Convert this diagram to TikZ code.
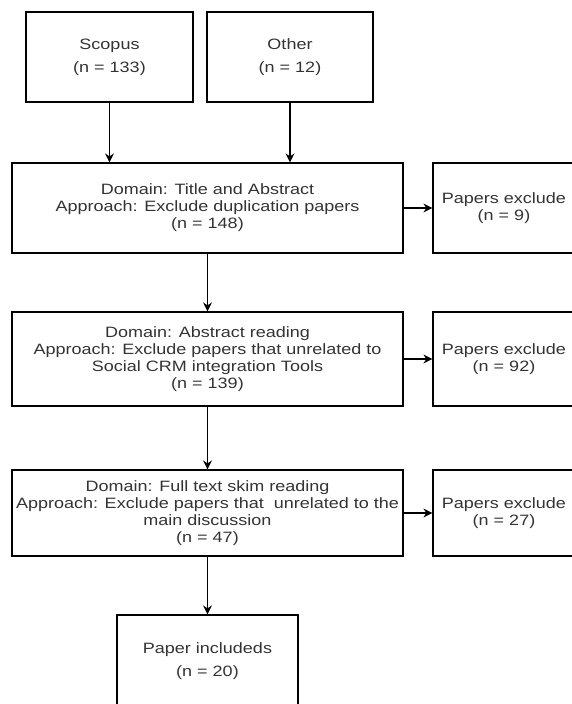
\documentclass[tikz,border=0pt]{standalone}
\usepackage{fontspec}
\setmainfont{Liberation Sans}[FakeStretch=1.2]
\usepackage{tikz}
\usetikzlibrary{arrows.meta,positioning}
\definecolor{txtgray}{HTML}{333333}
\tikzset{
    %Define standard arrow tip
    >={Stealth[length=9pt,width=9pt]},
    %Define style for boxes
    sbox/.style={
           rectangle,
           draw=black, line width=1.2pt,
           inner sep=0pt,
           text=txtgray,
           font=\fontsize{15}{17}\selectfont,
           align=center},
    % Define arrow style
    arr/.style={
           ->,
           line width=1.2pt}
}
\begin{document}
\begin{tikzpicture}[x=1pt,y=-1pt]
    \useasboundingbox (0,0) rectangle (572,704);
    \clip (0,0) rectangle (572,704);

    % SOURCES
    \node[sbox, minimum width=167pt, minimum height=90pt] at (109.5,57) (scopus) {Scopus\\[6pt](n = 133)};
    \node[sbox, minimum width=166pt, minimum height=90pt] at (290,57) (other) {Other\\[6pt](n = 12)};

    % SCREENING STEPS
    \node[sbox, minimum width=391pt, minimum height=90pt] at (207.5,208) (titleabs) {Domain: Title and Abstract\\Approach: Exclude duplication papers\\(n = 148)};
    \node[sbox, minimum width=391pt, minimum height=94pt] at (207.5,359) (absread) {Domain: Abstract reading\\Approach: Exclude papers that unrelated to\\Social CRM integration Tools\\(n = 139)};
    \node[sbox, minimum width=391pt, minimum height=86pt] at (207.5,513) (fullread) {Domain: Full text skim reading\\Approach: Exclude papers that\ \ unrelated to the\\main discussion\\(n = 47)};
    \node[sbox, minimum width=181pt, minimum height=92pt] at (207.5,661) (included) {Paper includeds\\[6pt](n = 20)};

    % EXCLUDED
    \node[sbox, minimum width=142pt, minimum height=90pt] at (504,208) (exclA) {Papers exclude\\(n = 9)};
    \node[sbox, minimum width=142pt, minimum height=94pt] at (504,359) (exclB) {Papers exclude\\(n = 92)};
    \node[sbox, minimum width=142pt, minimum height=86pt] at (504,513) (exclC) {Papers exclude\\(n = 27)};

    \draw[arr] (scopus) -- (scopus |- titleabs.north);
    \draw[arr] (other) -- (other |- titleabs.north);
    \draw[arr] (titleabs) -- (absread);
    \draw[arr] (absread) -- (fullread);
    \draw[arr] (fullread) -- (included);

    \draw[arr] (titleabs) -- (exclA);
    \draw[arr] (absread) -- (exclB);
    \draw[arr] (fullread) -- (exclC);
\end{tikzpicture}
\end{document}
